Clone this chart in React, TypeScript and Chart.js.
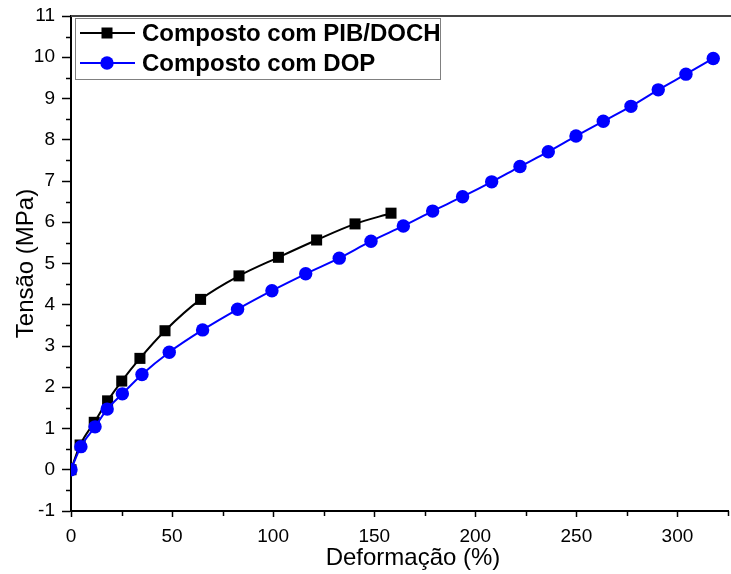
import React, { useEffect, useRef } from "react";
import { Chart, registerables } from "chart.js";

Chart.register(...registerables);

// Tensile curves: strain (%) vs stress (MPa)
const strainPIB = [0, 4.5, 11.5, 18.1, 25.1, 34.1, 46.5, 64.1, 83.1, 102.6, 121.5, 140.5, 158.3];
const stressPIB = [0, 0.6, 1.15, 1.67, 2.15, 2.7, 3.37, 4.13, 4.7, 5.15, 5.57, 5.96, 6.22];

const strainDOP = [
  0, 4.9, 11.9, 17.9, 25.4, 35.1, 48.6, 65.1, 82.4, 99.4, 116.1, 132.7, 148.4,
  164.4, 178.9, 193.7, 208.1, 222.1, 236.1, 249.8, 263.3, 277.0, 290.5, 304.2, 317.7,
];
const stressDOP = [
  0, 0.56, 1.04, 1.47, 1.84, 2.31, 2.85, 3.39, 3.89, 4.34, 4.75, 5.13, 5.54,
  5.91, 6.27, 6.62, 6.98, 7.35, 7.71, 8.09, 8.45, 8.81, 9.21, 9.59, 9.97,
];

const seriesLabels = ["Composto com PIB/DOCH", "Composto com DOP"];
const xTitle = "Deformação (%)";
const xTicks = [0, 50, 100, 150, 200, 250, 300];
const yTicks = [-1, 0, 1, 2, 3, 4, 5, 6, 7, 8, 9, 10, 11];

const FONT = '"Liberation Sans", Arial, sans-serif';

// Minor ticks, top frame line, x-axis title and a boxed legend inside the plot
const decorations = {
  id: "decorations",
  afterDraw(chart: any) {
    const { ctx, chartArea } = chart;
    const xs = chart.scales.x;
    const ys = chart.scales.y;
    ctx.save();
    ctx.strokeStyle = "#000";
    ctx.lineWidth = 1.5;
    for (let v = 25; v <= 325; v += 50) {
      const px = Math.round(xs.getPixelForValue(v)) + 0.5;
      ctx.beginPath();
      ctx.moveTo(px, chartArea.bottom);
      ctx.lineTo(px, chartArea.bottom + 5);
      ctx.stroke();
    }
    for (let v = -0.5; v <= 10.5; v += 1) {
      const py = Math.round(ys.getPixelForValue(v)) + 0.5;
      ctx.beginPath();
      ctx.moveTo(chartArea.left, py);
      ctx.lineTo(chartArea.left - 5, py);
      ctx.stroke();
    }
    // top frame line
    ctx.strokeStyle = "#444";
    ctx.lineWidth = 2;
    ctx.beginPath();
    ctx.moveTo(chartArea.left, chartArea.top);
    ctx.lineTo(chart.width, chartArea.top);
    ctx.stroke();

    // x-axis title
    ctx.fillStyle = "#000";
    ctx.font = `24px ${FONT}`;
    ctx.textAlign = "center";
    ctx.textBaseline = "middle";
    ctx.fillText(xTitle, 413, 558);

    // legend
    const boxL = chartArea.left + 4;
    const boxT = chartArea.top + 2;
    const boxR = 440;
    const boxB = 79;
    ctx.fillStyle = "#fff";
    ctx.fillRect(boxL, boxT, boxR - boxL, boxB - boxT);
    ctx.strokeStyle = "#808080";
    ctx.lineWidth = 1;
    ctx.strokeRect(boxL + 0.5, boxT + 0.5, boxR - boxL, boxB - boxT);
    const rows = [
      { label: seriesLabels[0], color: "#000", shape: "rect", y: 33 },
      { label: seriesLabels[1], color: "#0000ff", shape: "circle", y: 63 },
    ];
    ctx.font = `bold 24px ${FONT}`;
    ctx.textBaseline = "middle";
    ctx.textAlign = "left";
    for (const r of rows) {
      ctx.strokeStyle = r.color;
      ctx.lineWidth = 2;
      ctx.beginPath();
      ctx.moveTo(80, r.y);
      ctx.lineTo(135, r.y);
      ctx.stroke();
      ctx.fillStyle = r.color;
      if (r.shape === "rect") {
        ctx.fillRect(107 - 5.5, r.y - 5.5, 11, 11);
      } else {
        ctx.beginPath();
        ctx.arc(107, r.y, 6.7, 0, Math.PI * 2);
        ctx.fill();
      }
      ctx.fillStyle = "#000";
      ctx.fillText(r.label, 142, r.y + 1);
    }
    ctx.restore();
  },
};

export default function App() {
  const ref = useRef<HTMLCanvasElement>(null);

  useEffect(() => {
    document.body.style.margin = "0";
    const canvas = ref.current!;
    const chart = new Chart(canvas, {
      type: "line",
      data: {
        datasets: [
          {
            label: seriesLabels[0],
            data: strainPIB.map((x, i) => ({ x, y: stressPIB[i] })),
            borderColor: "#000",
            backgroundColor: "#000",
            borderWidth: 2,
            pointStyle: "rect",
            pointRadius: 7.8,
            pointBorderWidth: 0,
            cubicInterpolationMode: "monotone",
            order: 1,
          },
          {
            label: seriesLabels[1],
            data: strainDOP.map((x, i) => ({ x, y: stressDOP[i] })),
            borderColor: "#0000ff",
            backgroundColor: "#0000ff",
            borderWidth: 2,
            pointStyle: "circle",
            pointRadius: 6.7,
            pointBorderWidth: 0,
            cubicInterpolationMode: "monotone",
            order: 0,
          },
        ],
      },
      options: {
        animation: false,
        responsive: false,
        devicePixelRatio: 1,
        layout: { autoPadding: false, padding: { left: 0, top: 16, right: 3, bottom: 0 } },
        plugins: { legend: { display: false }, tooltip: { enabled: false } },
        scales: {
          x: {
            type: "linear",
            min: 0,
            max: 325,
            afterBuildTicks: (s: any) => {
              s.ticks = xTicks.map((v) => ({ value: v }));
            },
            afterFit: (s: any) => {
              s.height = 63;
              s.paddingLeft = 0;
              s.paddingRight = 0;
            },
            ticks: {
              autoSkip: false,
              maxRotation: 0,
              color: "#000",
              padding: 8,
              font: { family: FONT, size: 19 },
            },
            grid: {
              drawOnChartArea: false,
              drawTicks: true,
              tickLength: 6,
              tickWidth: 1.5,
              tickColor: "#000",
            },
            border: { display: true, color: "#000", width: 2 },
            title: { display: false },
          },
          y: {
            type: "linear",
            min: -1,
            max: 11,
            afterBuildTicks: (s: any) => {
              s.ticks = yTicks.map((v) => ({ value: v }));
            },
            afterFit: (s: any) => {
              s.width = 71;
              s.paddingTop = 0;
              s.paddingBottom = 0;
            },
            ticks: {
              autoSkip: false,
              color: "#000",
              padding: 7,
              font: { family: FONT, size: 19 },
            },
            grid: {
              drawOnChartArea: false,
              drawTicks: true,
              tickLength: 9,
              tickWidth: 1.5,
              tickColor: "#000",
            },
            border: { display: true, color: "#000", width: 2 },
            title: {
              display: true,
              text: "Tensão (MPa)",
              color: "#000",
              font: { family: FONT, size: 24 },
              padding: { top: 12, bottom: 0 },
            },
          },
        },
      },
      plugins: [decorations],
    } as any);
    return () => chart.destroy();
  }, []);

  return (
    <div style={{ position: "absolute", left: 0, top: 0, width: 731, height: 574, background: "#fff" }}>
      <canvas ref={ref} width={731} height={574} />
    </div>
  );
}
